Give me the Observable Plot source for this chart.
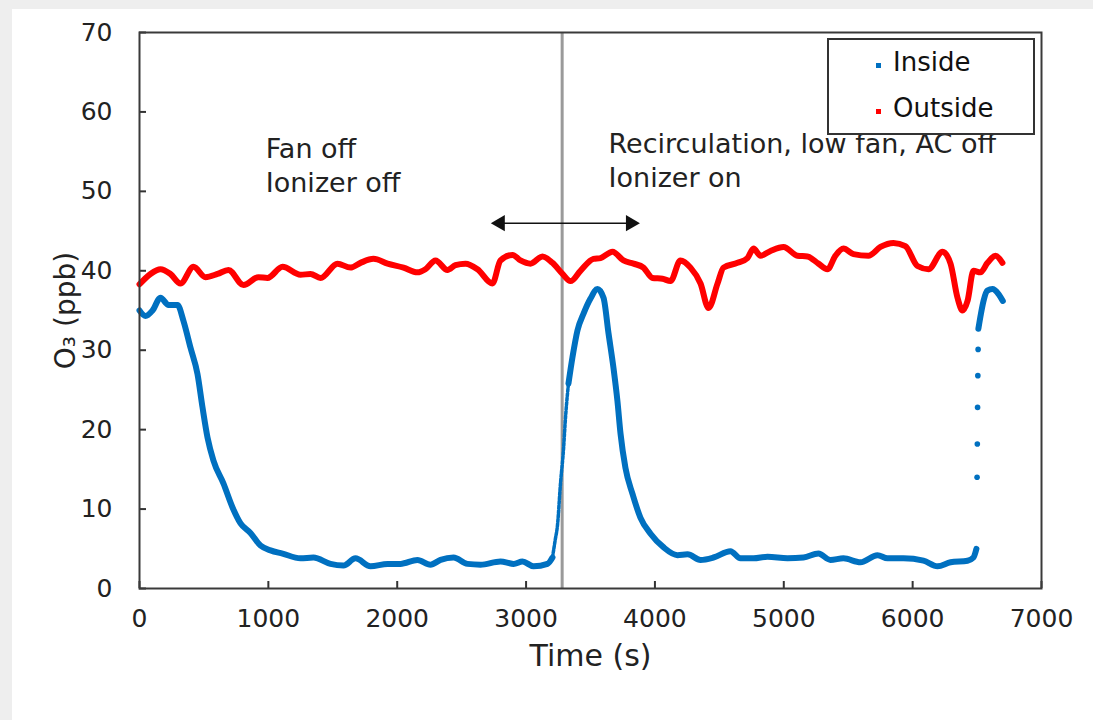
<!DOCTYPE html>
<html>
<head>
<meta charset="utf-8">
<script src="https://cdn.jsdelivr.net/npm/d3@7"></script>
<script src="https://cdn.jsdelivr.net/npm/@observablehq/plot@0.6"></script>
<style>
  html, body { margin: 0; padding: 0; background: #eeeeee; }
  #panel { position: absolute; left: 12px; top: 9px; width: 1081px; height: 711px; background: #ffffff; overflow: hidden; }
  #panel svg { position: absolute; left: 0; top: 0; }
  #legend { position: absolute; left: 815px; top: 29px; width: 204px; height: 93px; border: 2px solid #333; background: #fff;
            font-family: "DejaVu Sans", sans-serif; font-size: 26px; color: #111; }
  .key { position: absolute; width: 5px; height: 5px; }
  .lab { position: absolute; line-height: 1; white-space: nowrap; }
</style>
</head>
<body>
<div id="panel"></div>
<script>
// Ozone readings, O3 in ppb against elapsed time in seconds
const insideTime = [0, 47, 101, 163, 225, 295, 341, 396, 450, 489, 528, 574, 652, 722, 784, 861, 939, 1017, 1110, 1249,
  1350, 1482, 1583, 1676, 1793, 1925, 2025, 2157, 2258, 2336, 2437, 2545, 2646, 2801, 2903, 2972, 3058, 3166, 3205];
const insideO3 = [35.0, 34.3, 35.0, 36.6, 35.7, 35.7, 33.7, 30.3, 27.0, 22.8, 19.0, 16.1, 13.2, 10.2, 8.2, 7.0, 5.4, 4.8, 4.4, 3.8,
  3.9, 3.1, 2.9, 3.8, 2.8, 3.1, 3.1, 3.6, 3.0, 3.6, 3.9, 3.1, 3.0, 3.4, 3.1, 3.4, 2.8, 3.1, 3.9];

// fast rise after the mode change, sampled more sparsely
const riseTime = [3205, 3225, 3244, 3267, 3290, 3306, 3329];
const riseO3 = [3.9, 6.0, 8.0, 13.2, 17.4, 21.5, 25.8];

const peakTime = [3329, 3360, 3399, 3446, 3500, 3554, 3601, 3640, 3678, 3709, 3733, 3771, 3826, 3888, 3966, 4066,
  4175, 4253, 4354, 4454, 4586, 4664, 4765, 4874, 5029, 5153, 5269, 5362, 5463, 5595, 5727, 5805, 5929, 6084, 6193, 6294,
  6426, 6472, 6495];
const peakO3 = [25.8, 29.1, 32.5, 34.6, 36.5, 37.7, 36.6, 32.1, 27.8, 23.6, 19.5, 15.2, 11.9, 8.9, 6.9, 5.2,
  4.2, 4.3, 3.6, 3.9, 4.7, 3.8, 3.8, 4.0, 3.8, 3.9, 4.4, 3.6, 3.8, 3.3, 4.2, 3.8, 3.8, 3.5, 2.8, 3.3,
  3.5, 3.9, 5.0];

// sparse readings during the fast rise at the end of the run
const jumpTime = [6500, 6502, 6504, 6506, 6508];
const jumpO3 = [14.0, 18.2, 22.8, 26.8, 30.1];

const recoveryTime = [6510, 6530, 6550, 6580, 6620, 6665, 6700];
const recoveryO3 = [32.7, 34.6, 36.2, 37.5, 37.7, 37.1, 36.2];

const outsideTime = [0, 85, 163, 240, 318, 419, 512, 605, 690, 807, 923, 993, 1110, 1249, 1327, 1405, 1536, 1637, 1715, 1816,
  1925, 2049, 2157, 2219, 2297, 2390, 2452, 2530, 2623, 2739, 2801, 2895, 2957, 3034, 3127, 3205, 3283, 3345, 3422, 3523,
  3578, 3671, 3756, 3834, 3911, 3981, 4059, 4121, 4198, 4276, 4354, 4416, 4486, 4532, 4641, 4718, 4765, 4819, 4897, 4998,
  5106, 5184, 5269, 5339, 5401, 5463, 5541, 5657, 5750, 5851, 5944, 6037, 6123, 6232, 6294, 6348, 6387, 6426, 6472, 6526,
  6581, 6643, 6697];
const outsideO3 = [38.3, 39.6, 40.2, 39.6, 38.4, 40.5, 39.2, 39.6, 40.1, 38.2, 39.2, 39.1, 40.5, 39.5, 39.6, 39.1, 40.9, 40.4, 41.0, 41.5,
  40.9, 40.4, 39.8, 40.2, 41.3, 40.1, 40.7, 40.9, 40.2, 38.4, 41.3, 42.0, 41.3, 40.9, 41.8, 41.0, 39.6, 38.7, 40.0, 41.5,
  41.6, 42.4, 41.3, 40.9, 40.4, 39.1, 39.0, 38.7, 41.3, 40.4, 38.4, 35.3, 38.4, 40.4, 41.0, 41.6, 42.8, 41.9, 42.5, 43.0,
  41.9, 41.8, 40.9, 40.2, 41.9, 42.8, 42.1, 41.9, 43.0, 43.5, 43.1, 40.6, 40.2, 42.4, 40.9, 36.6, 35.0, 36.2, 40.0, 39.8,
  41.0, 41.9, 41.0];

const xTicks = [0, 1000, 2000, 3000, 4000, 5000, 6000, 7000];
const yTicks = [0, 10, 20, 30, 40, 50, 60, 70];
const xDomain = [0, 7000];
const yDomain = [0, 70];

// change of operating mode, and the span marked by the double arrow
const switchTime = 3280;
const arrowStart = 2760;
const arrowEnd = 3850;
const arrowLevel = 46;

const notes = [
  {t: 980, v: 53.4, text: "Fan off\nIonizer off"},
  {t: 3640, v: 54.1, text: "Recirculation, low fan, AC off\nIonizer on"}
];

const seriesNames = ["Inside", "Outside"];
const seriesColors = ["#0070c0", "#ff0000"];

const pairs = (ts, vs) => ts.map((t, i) => ({t, v: vs[i]}));
const inside = pairs(insideTime, insideO3);
const rise = pairs(riseTime, riseO3);
const peak = pairs(peakTime, peakO3);
const jump = pairs(jumpTime, jumpO3);
const recovery = pairs(recoveryTime, recoveryO3);
const outside = pairs(outsideTime, outsideO3);

const W = 1081, H = 711, mL = 127, mR = 52, mT = 23, mB = 132;
// inward tick length (about 7 px) expressed in each axis's units
const tickLenX = (xDomain[1] - xDomain[0]) * 7 / (W - mL - mR);
const tickLenY = (yDomain[1] - yDomain[0]) * 7 / (H - mT - mB);

const fontMain = "DejaVu Sans, sans-serif";
const blue = seriesColors[0];

const chart = Plot.plot({
  width: W,
  height: H,
  marginLeft: mL,
  marginRight: mR,
  marginTop: mT,
  marginBottom: mB,
  style: {fontFamily: fontMain, color: "#222", background: "transparent", overflow: "visible"},
  x: {domain: xDomain},
  y: {domain: yDomain},
  marks: [
    Plot.axisX({ticks: xTicks, tickSize: 0, tickPadding: 21, tickFormat: d => String(d), fontSize: 25,
      fontFamily: fontMain, label: null}),
    Plot.axisY({ticks: yTicks, tickSize: 0, tickPadding: 27, tickFormat: d => String(d), fontSize: 25,
      fontFamily: fontMain, label: null}),
    Plot.ruleX(xTicks, {x: d => d, y1: 0, y2: tickLenY, stroke: "#333", strokeWidth: 2}),
    Plot.ruleY(yTicks, {y: d => d, x1: 0, x2: tickLenX, stroke: "#333", strokeWidth: 2}),
    Plot.text(["Time (s)"], {frameAnchor: "bottom", dy: 68, lineAnchor: "middle", textAnchor: "middle",
      fontSize: 30, fill: "#222", fontFamily: fontMain}),
    Plot.text(["O\u2083 (ppb)"], {frameAnchor: "left", dx: -73, rotate: -90, lineAnchor: "middle", textAnchor: "middle",
      fontSize: 28, fill: "#222", fontFamily: fontMain}),
    Plot.ruleX([switchTime], {stroke: "#9a9a9a", strokeWidth: 3}),
    Plot.line(outside, {x: "t", y: "v", stroke: seriesColors[1], strokeWidth: 6, curve: "monotone-x"}),
    Plot.line(inside, {x: "t", y: "v", stroke: blue, strokeWidth: 6, curve: "monotone-x"}),
    Plot.line(rise, {x: "t", y: "v", stroke: blue, strokeWidth: 3.5, strokeDasharray: "3,1.5", curve: "monotone-x"}),
    Plot.line(peak, {x: "t", y: "v", stroke: blue, strokeWidth: 6, curve: "monotone-x"}),
    Plot.dot(jump, {x: "t", y: "v", r: 2.8, fill: blue, stroke: null}),
    Plot.line(recovery, {x: "t", y: "v", stroke: blue, strokeWidth: 6, curve: "monotone-x"}),
    Plot.ruleY([arrowLevel], {x1: arrowStart, x2: arrowEnd, stroke: "#111", strokeWidth: 1.5}),
    Plot.dot([arrowStart], {x: d => d, y: arrowLevel, symbol: "triangle", rotate: -90, r: 6, fill: "#111", stroke: null, dx: 5}),
    Plot.dot([arrowEnd], {x: d => d, y: arrowLevel, symbol: "triangle", rotate: 90, r: 6, fill: "#111", stroke: null, dx: -5}),
    Plot.text(notes, {x: "t", y: "v", text: "text", textAnchor: "start", lineAnchor: "middle", lineHeight: 1.26,
      fontSize: 27, fill: "#222", fontFamily: fontMain}),
    Plot.frame({stroke: "#3a3a3a", strokeWidth: 2})
  ]
});

const panel = document.getElementById("panel");
panel.appendChild(chart);

// legend box
const legend = document.createElement("div");
legend.id = "legend";
const keyTops = [25, 71];
seriesNames.forEach((name, i) => {
  const key = document.createElement("div");
  key.className = "key";
  key.style.left = "47px";
  key.style.top = (keyTops[i] - 2) + "px";
  key.style.background = seriesColors[i];
  legend.appendChild(key);
  const lab = document.createElement("div");
  lab.className = "lab";
  lab.textContent = name;
  lab.style.left = "64px";
  lab.style.top = (keyTops[i] - 16) + "px";
  legend.appendChild(lab);
});
panel.appendChild(legend);
</script>
</body>
</html>
